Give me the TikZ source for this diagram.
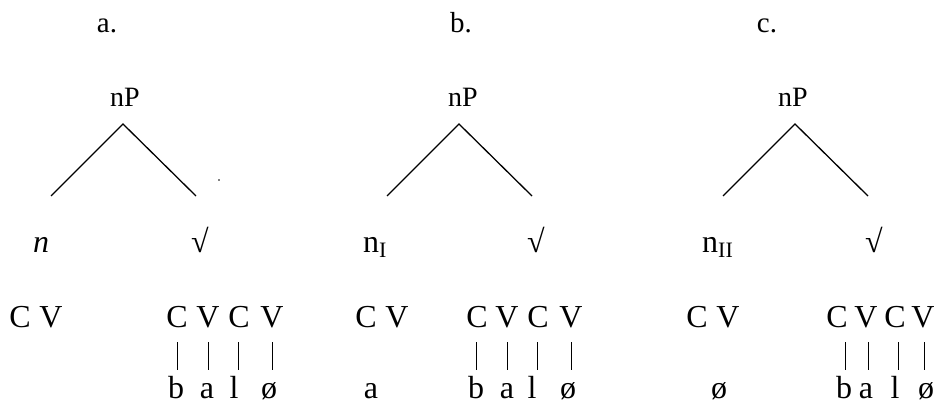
\documentclass[tikz,border=0pt]{standalone}
\usepackage{fontspec}
\setmainfont{Liberation Serif}
\tikzset{
  lbl/.style={inner sep=0pt, anchor=base, font=\fontsize{29}{32}\selectfont},
  cat/.style={inner sep=0pt, anchor=base, font=\fontsize{28}{32}\selectfont},
  head/.style={inner sep=0pt, anchor=base, font=\fontsize{32}{36}\selectfont},
  seg/.style={inner sep=0pt, anchor=base, font=\fontsize{32}{36}\selectfont},
  branch/.style={line width=1.3pt},
  assoc/.style={line width=1pt},
}
\newcommand{\mysub}[1]{\raisebox{-5pt}{\fontsize{22}{24}\selectfont #1}}
\begin{document}
\begin{tikzpicture}[x=1pt,y=-1pt]
\useasboundingbox (0,0) rectangle (943,406);
% ---------- a ----------
\node[lbl] (la) at (107,33) {a.};
\node[cat] (npa) at (125,107) {nP};
\coordinate (apa) at (123,124);
\coordinate (lfa) at (51,196);
\coordinate (rta) at (196,196);
\draw[branch] (lfa) -- (apa) -- (rta);
\fill (219,180) circle (0.9pt);
\node[head] (na) at (41,253) {\itshape n};
\node[head] (ra) at (200,253) {√};
\foreach \x/\t [count=\i] in {20/C,51/V}{\node[seg] (a-cv\i) at (\x,327) {\t};}
\foreach \x/\t [count=\i] in {177/C,208/V,239/C,272/V}{\node[seg] (a-s\i) at (\x,327) {\t};}
\foreach \x/\t [count=\i] in {176/b,207/a,234/l,269/ø}{\node[seg] (a-m\i) at (\x,398) {\t};}
\foreach \x [count=\i] in {177,208,238,272}{
  \coordinate (a-t\i) at (\x,342); \coordinate (a-b\i) at (\x,370);
  \draw[assoc] (a-t\i) -- (a-b\i);}
% ---------- b ----------
\node[lbl] (lb) at (461,33) {b.};
\node[cat] (npb) at (463,107) {nP};
\coordinate (apb) at (459,124);
\coordinate (lfb) at (387,196);
\coordinate (rtb) at (532,196);
\draw[branch] (lfb) -- (apb) -- (rtb);
\node[head, anchor=base west] (nb) at (363,253) {n\mysub{I}};
\node[head] (rb) at (536,253) {√};
\foreach \x/\t [count=\i] in {366/C,397/V}{\node[seg] (b-cv\i) at (\x,327) {\t};}
\foreach \x/\t [count=\i] in {477/C,507/V,538/C,571/V}{\node[seg] (b-s\i) at (\x,327) {\t};}
\node[seg] (b-a) at (371,398) {a};
\foreach \x/\t [count=\i] in {476/b,507/a,532/l,568/ø}{\node[seg] (b-m\i) at (\x,398) {\t};}
\foreach \x [count=\i] in {476,507,537,571}{
  \coordinate (b-t\i) at (\x,342); \coordinate (b-b\i) at (\x,370);
  \draw[assoc] (b-t\i) -- (b-b\i);}
% ---------- c ----------
\node[lbl] (lc) at (767,33) {c.};
\node[cat] (npc) at (793,107) {nP};
\coordinate (apc) at (795,124);
\coordinate (lfc) at (723,196);
\coordinate (rtc) at (868,196);
\draw[branch] (lfc) -- (apc) -- (rtc);
\node[head, anchor=base west] (nc) at (702,253) {n\mysub{II}};
\node[head] (rc) at (874,253) {√};
\foreach \x/\t [count=\i] in {697/C,728/V}{\node[seg] (c-cv\i) at (\x,327) {\t};}
\foreach \x/\t [count=\i] in {837/C,866/V,895/C,923/V}{\node[seg] (c-s\i) at (\x,327) {\t};}
\node[seg] (c-o) at (719,398) {ø};
\foreach \x/\t [count=\i] in {844/b,866/a,895/l,926/ø}{\node[seg] (c-m\i) at (\x,398) {\t};}
\foreach \x [count=\i] in {845,868,898,924}{
  \coordinate (c-t\i) at (\x,342); \coordinate (c-b\i) at (\x,370);
  \draw[assoc] (c-t\i) -- (c-b\i);}
\end{tikzpicture}
\end{document}
